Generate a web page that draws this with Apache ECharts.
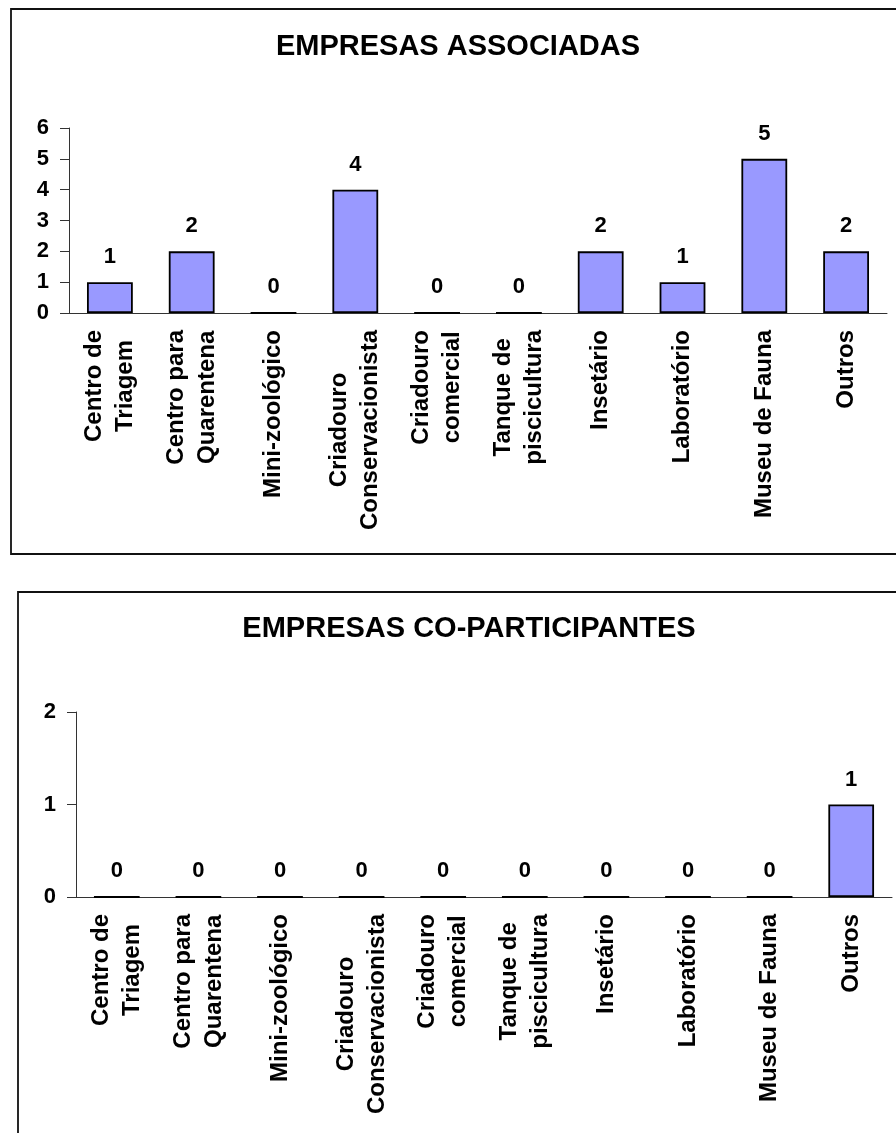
<!DOCTYPE html>
<html>
<head>
<meta charset="utf-8">
<script src="https://cdn.jsdelivr.net/npm/echarts@6/dist/echarts.min.js"></script>
<style>
html,body{margin:0;padding:0;background:#fff}
#main{width:896px;height:1133px}
</style>
</head>
<body>
<div id="main"></div>
<script>
// dados
var categorias = ['Centro de\nTriagem', 'Centro para\nQuarentena', 'Mini-zoológico',
  'Criadouro\nConservacionista', 'Criadouro\ncomercial', 'Tanque de\npiscicultura',
  'Insetário', 'Laboratório', 'Museu de Fauna', 'Outros'];
var associadas = [1, 2, 0, 4, 0, 0, 2, 1, 5, 2];
var coParticipantes = [0, 0, 0, 0, 0, 0, 0, 0, 0, 1];
var ticksAssociadas = [0, 1, 2, 3, 4, 5, 6];
var ticksCoParticipantes = [0, 1, 2];

var FONT = "'Liberation Sans', Arial, sans-serif";

function catLabel(v) {
  return v.split('\n').map(function (l) { return '{c|' + l + '}'; }).join('\n');
}

function eixoX(idx) {
  return {
    type: 'category', gridIndex: idx, data: categorias,
    axisLine: { lineStyle: { color: '#333', width: 1 } },
    axisTick: { length: 7, lineStyle: { color: '#333' } },
    axisLabel: {
      interval: 0, rotate: 90, margin: 17, formatter: catLabel,
      rich: { c: { align: 'center', fontSize: 24, fontWeight: 'bold', fontFamily: FONT, lineHeight: 31, color: '#000' } }
    }
  };
}

function eixoY(idx, ticks) {
  return {
    type: 'value', gridIndex: idx, min: ticks[0], max: ticks[ticks.length - 1], interval: 1,
    axisLine: { show: true, lineStyle: { color: '#333', width: 1 } },
    axisTick: { show: true, length: 9, lineStyle: { color: '#333' } },
    splitLine: { show: false },
    axisLabel: { margin: 20, fontSize: 22, fontWeight: 'bold', fontFamily: FONT, color: '#000' }
  };
}

function serie(idx, dados) {
  return {
    type: 'bar', xAxisIndex: idx, yAxisIndex: idx, data: dados,
    barCategoryGap: '44%',
    itemStyle: { color: '#9999FF', borderColor: '#000', borderWidth: 1.8 },
    label: { show: true, position: 'top', distance: 14, fontSize: 22, fontWeight: 'bold', fontFamily: FONT, color: '#000' }
  };
}

var chart = echarts.init(document.getElementById('main'));
var option = {
  animation: false,
  backgroundColor: '#fff',
  title: [
    { text: 'EMPRESAS ASSOCIADAS', left: 453, top: 27, textAlign: 'center',
      textStyle: { fontSize: 29, fontWeight: 'bold', fontFamily: FONT, color: '#000' } },
    { text: 'EMPRESAS CO-PARTICIPANTES', left: 464, top: 609, textAlign: 'center',
      textStyle: { fontSize: 29, fontWeight: 'bold', fontFamily: FONT, color: '#000' } }
  ],
  graphic: [
    { type: 'rect', shape: { x: 11, y: 9, width: 900, height: 545 }, style: { fill: 'none', stroke: '#111', lineWidth: 1.8 } },
    { type: 'rect', shape: { x: 18, y: 592, width: 900, height: 600 }, style: { fill: 'none', stroke: '#111', lineWidth: 1.8 } }
  ],
  grid: [
    { left: 69, top: 128, width: 818, height: 185 },
    { left: 76, top: 712, width: 816, height: 185 }
  ],
  xAxis: [eixoX(0), eixoX(1)],
  yAxis: [eixoY(0, ticksAssociadas), eixoY(1, ticksCoParticipantes)],
  series: [serie(0, associadas), serie(1, coParticipantes)]
};
chart.setOption(option);
</script>
</body>
</html>
